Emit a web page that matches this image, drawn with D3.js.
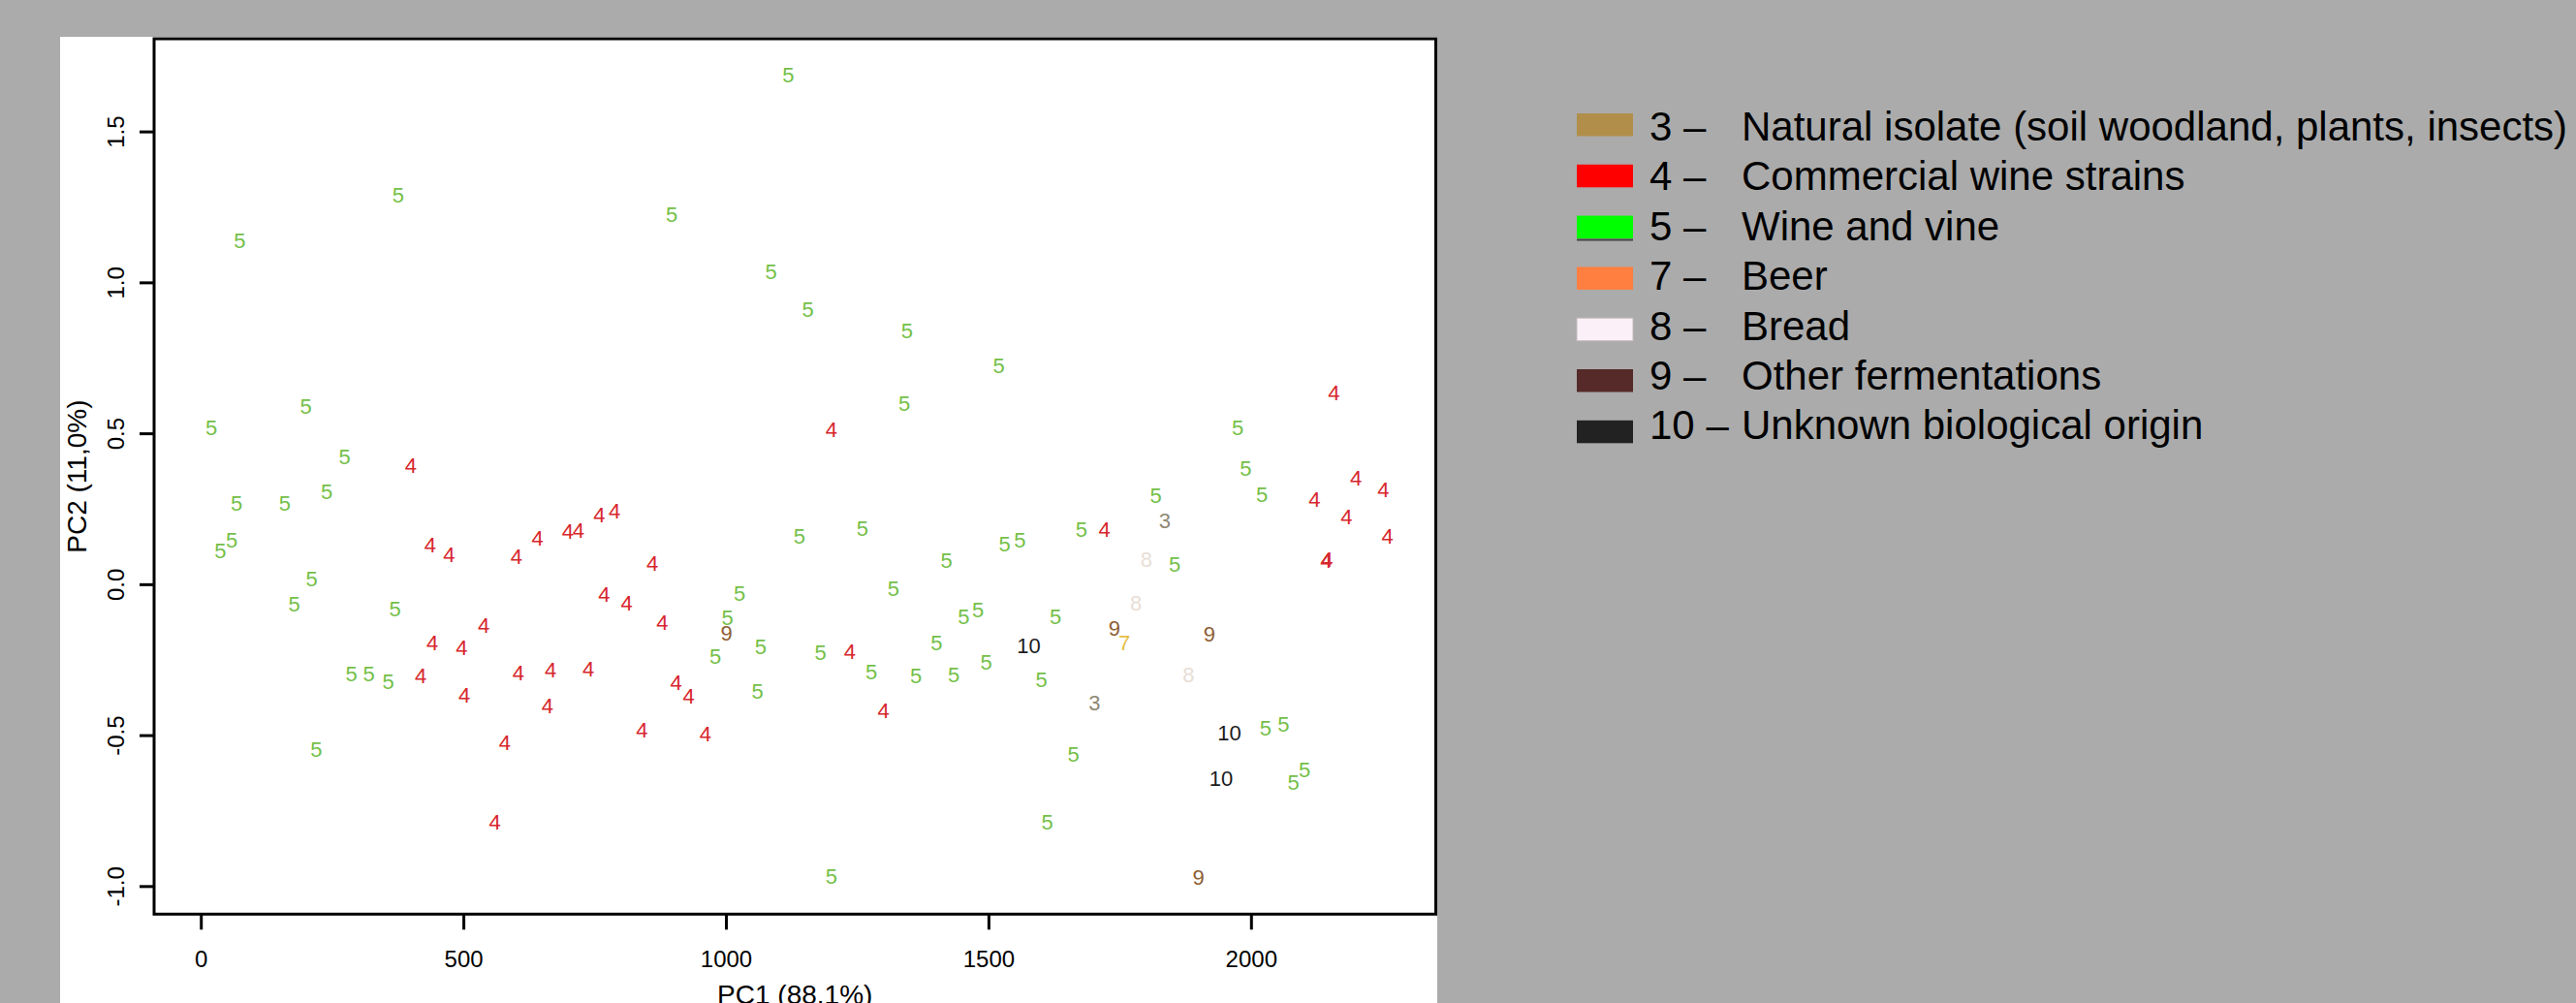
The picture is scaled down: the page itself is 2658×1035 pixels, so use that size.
<!DOCTYPE html>
<html>
<head>
<meta charset="utf-8">
<script src="https://cdn.jsdelivr.net/npm/d3@7"></script>
<style>
  body { margin: 0; background: #ababab; }
  svg { display: block; font-family: "Liberation Sans", Arial, Helvetica, sans-serif; }
</style>
</head>
<body>
<script>
// Axis ticks
const pc1Ticks = [0, 500, 1000, 1500, 2000];
const pc2Ticks = [-1.0, -0.5, 0.0, 0.5, 1.0, 1.5];

// Legend groups
const groupIds = [3, 4, 5, 7, 8, 9, 10];
const groupNames = [
    "Natural isolate (soil woodland, plants, insects)",
    "Commercial wine strains",
    "Wine and vine",
    "Beer",
    "Bread",
    "Other fermentations",
    "Unknown biological origin"
];
const legendColors = ["#b18f4a", "#ff0000", "#00ff00", "#ff7f40", "#fbf0f8", "#552a28", "#222222"];
// colour of the number labels inside the plot
const labelColors = ["#8f8876", "#d7262d", "#74bf48", "#e6be45", "#e8ded6", "#8e5e34", "#1c1c1c"];

// PCA scores [PC1, PC2] per group
const group3 = [[1836, 0.212], [1702, -0.392]];
const group4 = [
    [400, 0.394], [1201, 0.513], [2158, 0.635], [2200, 0.353], [2252, 0.314],
    [2121, 0.282], [2182, 0.223], [2260, 0.161], [2143, 0.079], [2145, 0.082],
    [1721, 0.182], [759, 0.232], [788, 0.243], [860, 0.071], [768, -0.032],
    [811, -0.061], [879, -0.125], [1236, -0.221], [738, -0.280], [905, -0.326],
    [929, -0.371], [1300, -0.417], [840, -0.483], [961, -0.494], [437, 0.130],
    [473, 0.100], [601, 0.093], [641, 0.154], [699, 0.177], [719, 0.180],
    [539, -0.135], [441, -0.194], [497, -0.210], [419, -0.301], [605, -0.293],
    [666, -0.283], [502, -0.366], [660, -0.403], [579, -0.523], [560, -0.788]
];
const group5 = [
    [376, 1.291], [74, 1.138], [200, 0.589], [20, 0.520], [274, 0.424],
    [1119, 1.687], [897, 1.225], [1086, 1.037], [1156, 0.910], [1345, 0.841],
    [1520, 0.726], [1340, 0.600], [1975, 0.519], [1990, 0.384], [2021, 0.298],
    [1819, 0.295], [1677, 0.182], [1531, 0.135], [1560, 0.147], [1855, 0.068],
    [1628, -0.107], [1601, -0.315], [2028, -0.475], [2062, -0.462], [1662, -0.563],
    [2081, -0.655], [2102, -0.614], [1612, -0.786], [1140, 0.161], [1260, 0.186],
    [1420, 0.079], [1319, -0.013], [1453, -0.107], [1480, -0.085], [1026, -0.031],
    [1003, -0.111], [1066, -0.205], [980, -0.237], [1180, -0.226], [1401, -0.194],
    [1277, -0.289], [1362, -0.303], [1434, -0.299], [1496, -0.258], [1060, -0.355],
    [1201, -0.968], [240, 0.307], [68, 0.268], [160, 0.268], [59, 0.148],
    [37, 0.111], [211, 0.020], [178, -0.064], [370, -0.082], [287, -0.296],
    [320, -0.296], [357, -0.323], [220, -0.545]
];
const group7 = [[1759, -0.194]];
const group8 = [[1801, 0.084], [1781, -0.061], [1881, -0.299]];
const group9 = [[1001, -0.160], [1740, -0.146], [1921, -0.165], [1900, -0.970]];
const group10 = [[1577, -0.202], [1959, -0.492], [1943, -0.644]];

const groupPoints = [group3, group4, group5, group7, group8, group9, group10];

const width = 2658, height = 1035;
const box = { left: 159, top: 40, right: 1481.5, bottom: 943.3 };

const svg = d3.select("body").append("svg")
    .attr("width", width)
    .attr("height", height);

// grey page and white figure panel
svg.append("rect").attr("width", width).attr("height", height).attr("fill", "#ababab");
svg.append("clipPath").attr("id", "panel")
    .append("rect").attr("x", 62).attr("y", 38).attr("width", 1421).attr("height", 1000);
svg.append("rect").attr("x", 62).attr("y", 38).attr("width", 1421).attr("height", 1000).attr("fill", "white");

const fig = svg.append("g").attr("clip-path", "url(#panel)");

const x = d3.scaleLinear().domain([-89, 2352]).range([box.left, box.right]);
const y = d3.scaleLinear().domain([-1.093, 1.807]).range([box.bottom, box.top]);

// x axis
const xAxis = fig.append("g")
    .attr("transform", `translate(0,${box.bottom})`)
    .call(d3.axisBottom(x).tickValues(pc1Ticks).tickSize(16).tickFormat(d3.format("d")));
xAxis.select(".domain").remove();
xAxis.selectAll(".tick line").attr("stroke", "black").attr("stroke-width", 3);
xAxis.selectAll(".tick text")
    .attr("y", 998 - box.bottom).attr("dy", null)
    .attr("font-size", 24).attr("fill", "black");

// y axis, labels parallel to the axis as in R
const yAxis = fig.append("g")
    .attr("transform", `translate(${box.left},0)`)
    .call(d3.axisLeft(y).tickValues(pc2Ticks).tickSize(15).tickFormat(d => d.toFixed(1)));
yAxis.select(".domain").remove();
yAxis.selectAll(".tick line").attr("stroke", "black").attr("stroke-width", 3);
yAxis.selectAll(".tick text")
    .attr("x", null).attr("dy", null)
    .attr("transform", `translate(${128 - box.left},0) rotate(-90)`)
    .attr("text-anchor", "middle")
    .attr("font-size", 24).attr("fill", "black");

// axis titles
fig.append("text")
    .attr("x", (box.left + box.right) / 2).attr("y", 1036)
    .attr("text-anchor", "middle").attr("font-size", 28)
    .text("PC1 (88.1%)");
fig.append("text")
    .attr("transform", `translate(89,${(box.top + box.bottom) / 2}) rotate(-90)`)
    .attr("text-anchor", "middle").attr("font-size", 28)
    .text("PC2 (11,0%)");

// points drawn as their group number
const pts = fig.append("g");
groupPoints.forEach((arr, i) => {
    pts.selectAll(null)
        .data(arr)
        .join("text")
        .attr("x", d => x(d[0]))
        .attr("y", d => y(d[1]))
        .attr("dy", "0.36em")
        .attr("text-anchor", "middle")
        .attr("font-size", 22)
        .attr("fill", labelColors[i])
        .text(groupIds[i]);
});

// plot box
fig.append("rect")
    .attr("x", box.left).attr("y", box.top)
    .attr("width", box.right - box.left).attr("height", box.bottom - box.top)
    .attr("fill", "none").attr("stroke", "black").attr("stroke-width", 3);

// legend
const legend = svg.append("g");
const rows = legend.selectAll("g")
    .data(groupIds)
    .join("g");
rows.append("rect")
    .attr("x", 1627).attr("y", (d, i) => 117 + 52.8 * i)
    .attr("width", 58).attr("height", 23.5)
    .attr("fill", (d, i) => legendColors[i])
    .attr("stroke", (d, i) => d === 8 ? "#c4bcbc" : "none")
    .attr("stroke-width", 1);
rows.filter(d => d === 5).append("line")
    .attr("x1", 1627).attr("x2", 1685)
    .attr("y1", (d) => 117 + 52.8 * 2 + 25).attr("y2", (d) => 117 + 52.8 * 2 + 25)
    .attr("stroke", "#444").attr("stroke-width", 2);
rows.append("text")
    .attr("x", 1702).attr("y", (d, i) => 145 + 51.4 * i)
    .attr("font-size", 42)
    .text(d => `${d} \u2013`);
rows.append("text")
    .attr("x", 1797).attr("y", (d, i) => 145 + 51.4 * i)
    .attr("font-size", 42)
    .text((d, i) => groupNames[i]);
</script>
</body>
</html>
